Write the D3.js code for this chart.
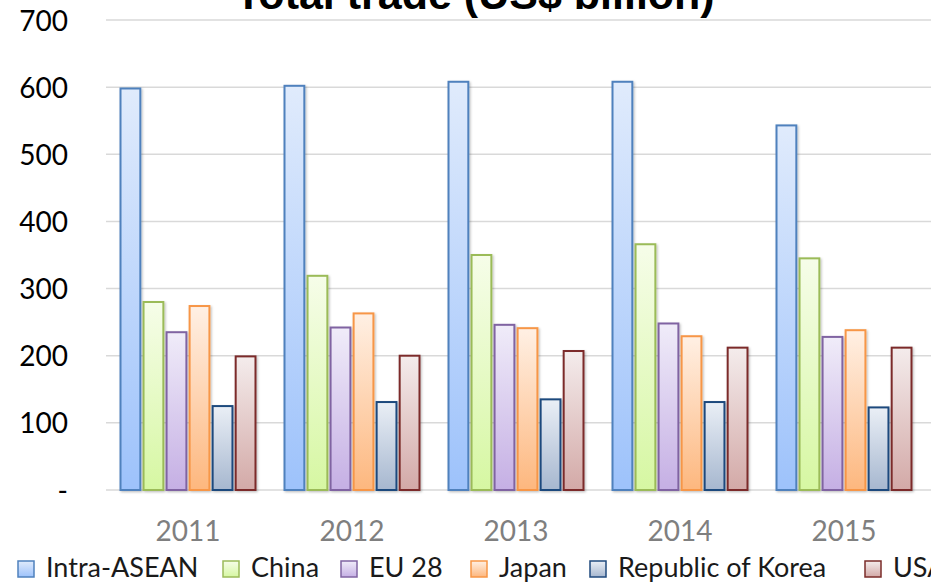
<!DOCTYPE html>
<html>
<head>
<meta charset="utf-8">
<script src="https://cdn.jsdelivr.net/npm/d3@7"></script>
<style>
  html, body { margin: 0; padding: 0; background: #fff; overflow: hidden; }
  svg { display: block; }
</style>
</head>
<body>
<svg id="chart" width="931" height="582"></svg>
<script>
// Total trade by partner, US$ billion
const years = ["2011", "2012", "2013", "2014", "2015"];
const partners = ["Intra-ASEAN", "China", "EU 28", "Japan", "Republic of Korea", "USA"];
const intraAsean = [598, 602, 608, 608, 543];
const china = [280, 319, 350, 366, 345];
const eu28 = [235, 242, 246, 248, 228];
const japan = [274, 263, 241, 229, 238];
const korea = [125, 131, 135, 131, 123];
const usa = [199, 200, 207, 212, 212];
const yTicks = [0, 100, 200, 300, 400, 500, 600, 700];

const seriesValues = [intraAsean, china, eu28, japan, korea, usa];
const strokes = ["#4f81bd", "#9bbb59", "#8064a2", "#f79646", "#1f497d", "#7b2c2a"];
const gradTop = ["#e0ebfc", "#f6fde9", "#f0ecf9", "#fff0e4", "#eaeff6", "#f4ecec"];
const gradBottom = ["#9dc2fb", "#d6f7a2", "#c5afe4", "#fdb77e", "#a6b7cf", "#d3a9a7"];

const svg = d3.select("#chart");
const defs = svg.append("defs");

partners.forEach((p, i) => {
  const g = defs.append("linearGradient")
    .attr("id", "grad" + i)
    .attr("x1", 0).attr("y1", 0).attr("x2", 0).attr("y2", 1);
  g.append("stop").attr("offset", "0%").attr("stop-color", gradTop[i]);
  g.append("stop").attr("offset", "100%").attr("stop-color", gradBottom[i]);
});

const shadow = defs.append("filter").attr("id", "shadow")
  .attr("x", "-20%").attr("y", "-5%").attr("width", "150%").attr("height", "115%");
shadow.append("feDropShadow")
  .attr("dx", 1.2).attr("dy", 1.2).attr("stdDeviation", 1.2)
  .attr("flood-color", "#000").attr("flood-opacity", 0.25);

const plotLeft = 106, plotRight = 926, plotTop = 20, plotBottom = 490;

const x = d3.scaleBand().domain(years).range([plotLeft, plotRight]).paddingInner(0).paddingOuter(0);
const xInner = d3.scaleBand().domain(partners).range([0, x.bandwidth()]).paddingInner(0.14).paddingOuter(0.63);
const y = d3.scaleLinear().domain([0, 700]).range([plotBottom, plotTop]);

// Horizontal gridlines
svg.append("g")
  .selectAll("line")
  .data(yTicks)
  .join("line")
  .attr("x1", plotLeft).attr("x2", 931)
  .attr("y1", d => y(d)).attr("y2", d => y(d))
  .attr("stroke", "#d9d9d9").attr("stroke-width", 1.5);

// Y axis labels
const yAxis = d3.axisLeft(y).tickValues(yTicks)
  .tickFormat(d => d === 0 ? "-" : d3.format("d")(d))
  .tickSize(0).tickPadding(0);
const yg = svg.append("g").attr("transform", `translate(68,0)`).call(yAxis);
yg.select(".domain").remove();
yg.selectAll("text")
  .attr("font-family", "Lato, 'Open Sans', sans-serif")
  .attr("font-size", 28)
  .attr("fill", "#000")
  .attr("dy", "0.36em");

// X axis labels
const xAxis = d3.axisBottom(x).tickSize(0).tickPadding(0);
const xg = svg.append("g").attr("transform", `translate(0,541)`).call(xAxis);
xg.select(".domain").remove();
xg.selectAll("text")
  .attr("font-family", "Lato, 'Open Sans', sans-serif")
  .attr("font-size", 28)
  .attr("fill", "#7f7f7f")
  .attr("y", 0)
  .attr("dy", 0);

// Bars
const groups = svg.append("g")
  .selectAll("g")
  .data(years)
  .join("g")
  .attr("transform", d => `translate(${x(d)},0)`);

groups.selectAll("rect")
  .data((yr, yi) => partners.map((p, pi) => ({ p, pi, v: seriesValues[pi][yi] })))
  .join("rect")
  .attr("x", d => xInner(d.p))
  .attr("y", d => y(d.v))
  .attr("width", xInner.bandwidth())
  .attr("height", d => y(0) - y(d.v))
  .attr("fill", d => `url(#grad${d.pi})`)
  .attr("stroke", d => strokes[d.pi])
  .attr("stroke-width", 2)
  .attr("filter", "url(#shadow)");

// Title
svg.append("text")
  .attr("x", 475).attr("y", 9)
  .attr("text-anchor", "middle")
  .attr("font-family", "'Liberation Sans', Arial, sans-serif")
  .attr("font-weight", "bold")
  .attr("font-size", 43)
  .attr("fill", "#000")
  .text("Total trade (US$ billion)");

// Legend
const legendX = [18, 223, 341, 471, 590, 865];
const legend = svg.append("g")
  .selectAll("g")
  .data(partners)
  .join("g")
  .attr("transform", (d, i) => `translate(${legendX[i]},561)`);
legend.append("rect")
  .attr("width", 16).attr("height", 16)
  .attr("fill", (d, i) => `url(#grad${i})`)
  .attr("stroke", (d, i) => strokes[i])
  .attr("stroke-width", 1.5);
legend.append("text")
  .attr("x", 28).attr("y", 16)
  .attr("font-family", "Lato, 'Open Sans', sans-serif")
  .attr("font-size", 27)
  .attr("fill", "#1a1a1a")
  .text(d => d);
</script>
</body>
</html>
